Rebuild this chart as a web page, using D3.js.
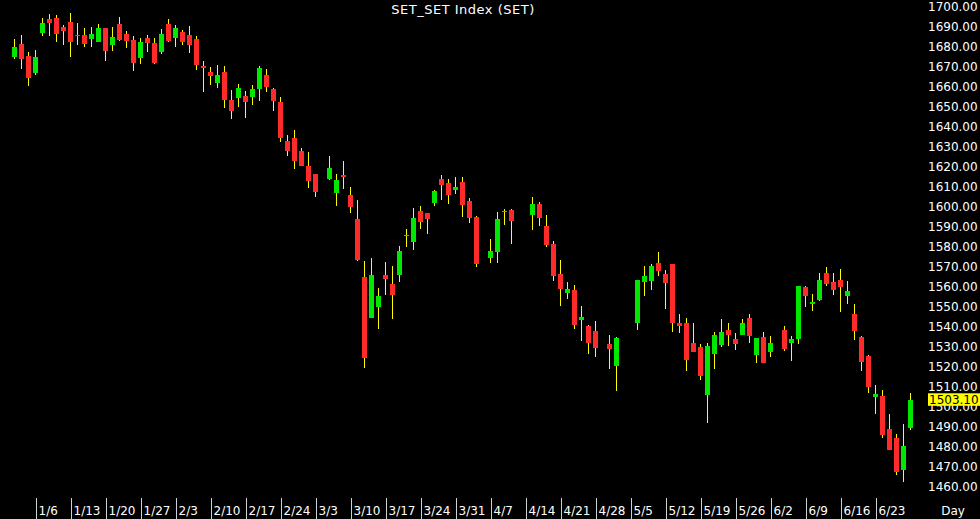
<!DOCTYPE html>
<html><head><meta charset="utf-8">
<script src="https://cdn.jsdelivr.net/npm/d3@7/dist/d3.min.js"></script>
<style>html,body{margin:0;padding:0;background:#000;overflow:hidden}</style>
</head><body><svg id="c" width="980" height="519"></svg>
<script>
// Trading days (2023)
const dates = [
"1/3","1/4","1/5","1/6",
"1/9","1/10","1/11","1/12","1/13",
"1/16","1/17","1/18","1/19","1/20",
"1/23","1/24","1/25","1/26","1/27",
"1/30","1/31","2/1","2/2","2/3",
"2/6","2/7","2/8","2/9","2/10",
"2/13","2/14","2/15","2/16","2/17",
"2/20","2/21","2/22","2/23","2/24",
"2/27","2/28","3/1","3/2","3/3",
"3/7","3/8","3/9","3/10",
"3/13","3/14","3/15","3/16","3/17",
"3/20","3/21","3/22","3/23","3/24",
"3/27","3/28","3/29","3/30","3/31",
"4/3","4/4","4/5","4/7",
"4/10","4/11","4/12",
"4/17","4/18","4/19","4/20","4/21",
"4/24","4/25","4/26","4/27","4/28",
"5/2","5/3",
"5/8","5/9","5/10","5/11","5/12",
"5/15","5/16","5/17","5/18","5/19",
"5/22","5/23","5/24","5/25","5/26",
"5/29","5/30","5/31","6/1","6/2",
"6/6","6/7","6/8","6/9",
"6/12","6/13","6/14","6/15","6/16",
"6/19","6/20","6/21","6/22","6/23",
"6/26","6/27","6/28","6/29","6/30"];

const open = [
1674.3,1680.8,1675.2,1666.5,
1686.3,1693.5,1694.2,1689.3,1691.8,
1685.7,1685.7,1683.5,1682.2,1689.2,
1680.7,1691.2,1686.2,1683.0,1674.2,
1684.2,1681.5,1676.8,1691.0,1683.8,
1687.0,1685.5,1683.7,1670.0,1667.0,
1661.3,1667.2,1652.8,1654.0,1655.2,
1654.5,1658.5,1665.5,1658.5,1652.2,
1632.5,1634.0,1627.7,1620.0,1615.8,
1613.3,1606.7,1615.5,1605.5,
1593.5,1564.5,1544.0,1549.5,1565.7,
1561.0,1565.7,1585.0,1582.0,1597.5,
1596.3,1601.5,1613.5,1611.5,1607.8,
1612.0,1602.5,1594.5,1573.8,
1577.0,1597.0,1598.0,
1595.5,1601.2,1590.2,1581.2,1565.8,
1556.3,1558.0,1543.0,1540.0,1537.7,
1531.0,1520.2,
1541.7,1561.8,1562.7,1571.7,1566.2,
1571.2,1541.5,1541.7,1531.5,1529.7,
1505.3,1526.2,1530.7,1538.0,1533.7,
1535.7,1543.8,1525.7,1534.5,1527.0,
1538.0,1531.5,1533.7,1559.5,
1551.2,1553.0,1566.3,1562.0,1563.2,
1555.0,1546.0,1534.5,1525.0,1504.5,
1504.8,1488.7,1484.0,1468.0,1489.0];

const high = [
1683.5,1685.5,1677.2,1678.0,
1693.8,1695.8,1695.3,1690.5,1696.3,
1691.7,1688.8,1689.7,1691.0,1689.2,
1689.7,1694.3,1687.7,1685.0,1684.2,
1685.5,1684.2,1688.3,1693.3,1690.7,
1688.0,1689.8,1685.0,1672.5,1669.3,
1670.3,1670.0,1657.8,1661.0,1657.3,
1660.5,1669.8,1668.3,1659.0,1654.3,
1635.7,1637.8,1629.2,1627.0,1615.8,
1625.0,1615.8,1622.3,1609.5,
1603.0,1572.7,1573.8,1559.0,1571.8,
1570.0,1580.0,1588.5,1599.0,1600.0,
1596.7,1608.2,1615.5,1613.5,1614.5,
1614.3,1604.0,1595.0,1583.5,
1597.0,1598.5,1598.7,
1604.7,1601.8,1595.5,1582.7,1572.8,
1562.0,1560.3,1550.2,1540.5,1542.5,
1535.7,1534.3,
1562.8,1569.8,1571.2,1576.8,1568.0,
1571.2,1546.0,1543.8,1541.5,1530.8,
1531.3,1537.0,1543.3,1541.5,1536.5,
1543.3,1546.0,1534.0,1537.0,1534.8,
1540.0,1535.0,1560.0,1560.0,
1556.2,1566.5,1569.7,1566.5,1568.5,
1562.7,1550.8,1535.0,1525.7,1510.7,
1508.0,1496.0,1486.2,1491.0,1506.5];

const low = [
1673.5,1668.5,1660.2,1665.7,
1685.2,1685.2,1682.2,1680.3,1674.3,
1680.3,1679.7,1679.5,1682.2,1672.7,
1677.7,1682.7,1679.2,1667.7,1671.2,
1676.8,1671.2,1676.2,1682.0,1679.3,
1680.7,1676.5,1668.2,1657.2,1660.5,
1658.8,1649.2,1643.3,1649.3,1644.2,
1650.7,1652.7,1656.8,1647.7,1631.8,
1625.0,1618.5,1620.2,1608.8,1604.5,
1613.0,1600.0,1608.7,1596.7,
1572.7,1518.8,1543.8,1538.3,1555.5,
1543.7,1561.8,1579.7,1578.0,1588.5,
1586.2,1600.0,1602.8,1601.2,1606.0,
1594.3,1591.5,1569.7,1571.5,
1571.3,1590.5,1581.0,
1588.0,1589.8,1579.5,1562.3,1550.0,
1553.5,1538.7,1532.5,1526.2,1524.5,
1518.3,1507.5,
1537.8,1555.2,1558.0,1565.0,1548.3,
1537.2,1536.7,1517.7,1526.8,1512.8,
1491.5,1518.7,1529.7,1530.0,1528.0,
1535.3,1531.7,1521.7,1521.5,1524.7,
1527.3,1522.7,1530.8,1549.7,
1547.7,1552.7,1559.8,1555.7,1546.8,
1551.0,1533.2,1517.7,1506.5,1496.0,
1484.0,1478.0,1465.5,1462.0,1488.2];

const close = [
1679.3,1673.5,1664.2,1674.3,
1691.5,1691.5,1686.0,1687.7,1682.0,
1685.2,1681.2,1686.0,1689.0,1677.3,
1684.3,1683.2,1682.3,1671.7,1681.8,
1681.5,1671.7,1686.2,1682.7,1688.8,
1682.2,1680.7,1670.7,1669.2,1664.8,
1665.3,1652.8,1647.5,1658.8,1651.8,
1658.3,1669.2,1659.5,1652.7,1634.2,
1627.5,1622.7,1620.2,1612.7,1607.0,
1619.0,1613.2,1614.3,1599.7,
1573.0,1524.0,1565.7,1555.2,1563.7,
1555.5,1577.7,1585.7,1594.2,1592.0,
1593.5,1607.5,1610.5,1605.5,1609.5,
1600.5,1594.2,1571.2,1577.7,
1593.5,1597.7,1592.7,
1601.0,1594.0,1580.5,1565.0,1558.5,
1558.5,1540.3,1544.5,1531.3,1529.2,
1528.7,1534.0,
1562.8,1565.0,1570.0,1567.5,1561.5,
1541.5,1540.0,1523.0,1526.8,1515.2,
1529.8,1535.5,1537.0,1535.5,1531.0,
1541.5,1535.0,1534.0,1521.5,1531.7,
1528.7,1533.7,1560.0,1555.2,
1552.0,1563.0,1561.2,1557.8,1559.5,
1557.5,1537.5,1522.2,1509.5,1506.0,
1485.3,1478.0,1467.0,1480.2,1503.1];

const tickDates = ["1/6","1/13","1/20","1/27","2/3","2/10","2/17","2/24","3/3","3/10","3/17","3/24","3/31",
"4/7","4/14","4/21","4/28","5/5","5/12","5/19","5/26","6/2","6/9","6/16","6/23"];
const priceTicks = [1460,1470,1480,1490,1500,1510,1520,1530,1540,1550,1560,1570,1580,1590,1600,
1610,1620,1630,1640,1650,1660,1670,1680,1690,1700];
const lastPrice = 1503.10;
const title = "SET_SET Index (SET)";
const periodLabel = "Day";

// weekday slot index counted from Mon 2023-01-02
function slot(md){
  const [m,d] = md.split("/").map(Number);
  const days = Math.round((Date.UTC(2023,m-1,d) - Date.UTC(2023,0,2)) / 864e5);
  return Math.floor(days/7)*5 + (days%7);
}

const svg = d3.select("#c");
svg.append("rect").attr("width",980).attr("height",519).attr("fill","#000");

const x = d3.scaleLinear().domain([0,130]).range([7.5, 917.5]);
const y = d3.scaleLinear().domain([1460,1700]).range([486,6]);

const data = dates.map((d,i)=>({d, s:slot(d), o:open[i], h:high[i], l:low[i], c:close[i]}));

const g = svg.append("g");
g.selectAll("line.wick").data(data).enter().append("line")
  .attr("x1",d=>x(d.s)).attr("x2",d=>x(d.s))
  .attr("y1",d=>y(d.h)).attr("y2",d=>y(d.l))
  .attr("stroke","#ffff00").attr("stroke-width",1).attr("shape-rendering","crispEdges");
g.selectAll("rect.body").data(data).enter().append("rect")
  .attr("x",d=>x(d.s)-2.5).attr("width",5)
  .attr("y",d=>y(Math.max(d.o,d.c)))
  .attr("height",d=>Math.max(1, Math.abs(y(d.o)-y(d.c))))
  .attr("fill",d=>d.c>=d.o ? "#00e800" : "#ff2a2a")
  .attr("shape-rendering","crispEdges");

// title
svg.append("text").attr("x",463).attr("y",14).attr("text-anchor","middle")
  .attr("fill","#fff").style("font","13px 'DejaVu Sans'").attr("letter-spacing","0.5")
  .text(title);

// right price axis
const ay = svg.append("g").attr("transform","translate(926,0)")
  .call(d3.axisRight(y).tickValues(priceTicks).tickSize(0).tickPadding(2).tickFormat(d3.format(".2f")));
ay.select(".domain").remove();
ay.selectAll("text").attr("fill","#fff").attr("dy","0.36em").style("font","12px 'DejaVu Sans'");

// last price label
const lp = svg.append("g").attr("transform",`translate(928,${y(lastPrice)})`);
lp.append("rect").attr("x",0).attr("y",-6.5).attr("width",52).attr("height",12.5).attr("fill","#ffff00");
lp.append("text").attr("x",1).attr("y",0).attr("dy","0.36em").attr("fill","#000")
  .style("font","12px 'DejaVu Sans'").text(d3.format(".2f")(lastPrice));

// bottom date axis
const ax = svg.append("g").attr("transform","translate(0,498)")
  .call(d3.axisBottom(x).tickValues(tickDates.map(slot)).tickSize(21)
    .tickFormat((v,i)=>tickDates[i]));
ax.select(".domain").remove();
ax.selectAll("line").attr("stroke","#d0d0d0").attr("shape-rendering","crispEdges");
ax.selectAll("text").attr("text-anchor","start").attr("x",2.5).attr("y",16.5).attr("dy",null)
  .attr("fill","#fff").style("font","12px 'DejaVu Sans'");

svg.append("text").attr("x",953).attr("y",514.5).attr("text-anchor","middle")
  .attr("fill","#fff").style("font","12px 'DejaVu Sans'").text(periodLabel);
</script>
</body></html>
